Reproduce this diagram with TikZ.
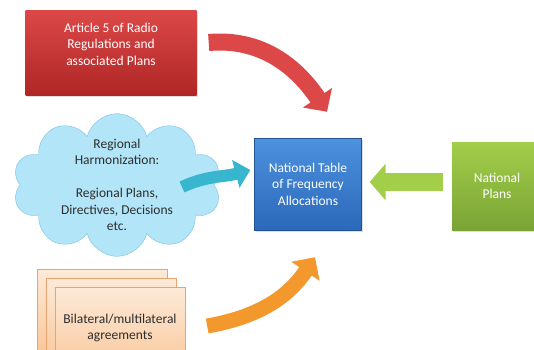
\documentclass[tikz,border=0pt]{standalone}
\usepackage{fontspec}
\setmainfont{Carlito}
\definecolor{artred}{RGB}{220, 72, 72}
\definecolor{artreddark}{RGB}{176, 38, 38}
\definecolor{tabblue}{RGB}{76, 146, 222}
\definecolor{tabbluedark}{RGB}{44, 104, 186}
\definecolor{natgreen}{RGB}{162, 206, 74}
\definecolor{natgreendark}{RGB}{122, 164, 54}
\definecolor{cloudblue}{RGB}{178, 229, 248}
\definecolor{cloudedge}{RGB}{122, 192, 226}
\definecolor{arrowcyan}{RGB}{56, 182, 208}
\definecolor{peachlight}{RGB}{253, 234, 216}
\definecolor{peach}{RGB}{249, 200, 156}
\definecolor{peachedge}{RGB}{234, 162, 112}
\definecolor{agrorange}{RGB}{242, 152, 44}
\definecolor{textgray}{RGB}{45, 45, 45}
\usepackage{tikz}
\usetikzlibrary{shapes.symbols, arrows.meta, shadows}
\newcommand{\boxfont}{\fontsize{13.5}{16.5}\selectfont}
\tikzset{
  box/.style={rectangle, align=center, text=white, font=\boxfont, inner sep=0pt,
    drop shadow={opacity=0.25, shadow xshift=1pt, shadow yshift=-2pt}},
  page/.style={rectangle, align=center, text=textgray, font=\boxfont,
    minimum width=130pt, minimum height=82pt, draw=peachedge,
    top color=peachlight, bottom color=peach}
}

\begin{document}
\begin{tikzpicture}[x=1pt, y=-1pt]
  \useasboundingbox[fill=white] (0, 0) rectangle (534, 349);

  % source boxes and the national table
  \node[box, top color=artred, bottom color=artreddark, minimum width=171pt,
    minimum height=85pt, text depth=17pt] (art) at (111, 52.5)
    {Article 5 of Radio\\Regulations and\\associated Plans};
  \node[box, top color=tabblue, bottom color=tabbluedark, draw=tabbluedark!80!black,
    minimum width=107pt, minimum height=92pt] (nt) at (308, 184)
    {National Table\\of Frequency\\Allocations};
  \node[box, top color=natgreen, bottom color=natgreendark, minimum width=90pt,
    minimum height=88pt] (nat) at (497, 186) {National\\Plans};

  % regional harmonization cloud
  \node[cloud, cloud puffs=10, aspect=1.9, inner sep=-10pt, fill=cloudblue,
    draw=cloudedge, text=textgray, align=center, font=\boxfont] (reg) at (117, 185)
    {Regional\\Harmonization:\\[16.5pt]Regional Plans,\\Directives, Decisions\\etc.};

  % stack of agreements
  \node[page] (agr3) at (102, 310) {};
  \node[page] (agr2) at (111, 319) {};
  \node[page] (agr) at (120, 328) {Bilateral/multilateral\\agreements};

  % block arrows into the table
  \draw[artred, line width=17pt, -{Triangle[length=17pt, width=34pt]}]
    ([xshift=12pt, yshift=10pt]art.east) to[out=5, in=124] ([xshift=19pt, yshift=26pt]nt.north);
  \draw[arrowcyan, line width=12pt, -{Triangle[length=15pt, width=28pt]}]
    ([xshift=65pt, yshift=-2pt]reg.center) to[out=25, in=195] ([xshift=-4pt, yshift=14pt]nt.west);
  \draw[natgreen, line width=18pt, -{Triangle[length=16pt, width=36pt]}]
    ([xshift=-9pt, yshift=4pt]nat.west) -- ([xshift=8pt, yshift=2pt]nt.east);
  \draw[agrorange, line width=15pt, -{Triangle[length=17pt, width=33pt]}]
    ([xshift=22pt, yshift=2pt]agr.east) to[out=10, in=236] ([xshift=7pt, yshift=-27pt]nt.south);
\end{tikzpicture}
\end{document}
